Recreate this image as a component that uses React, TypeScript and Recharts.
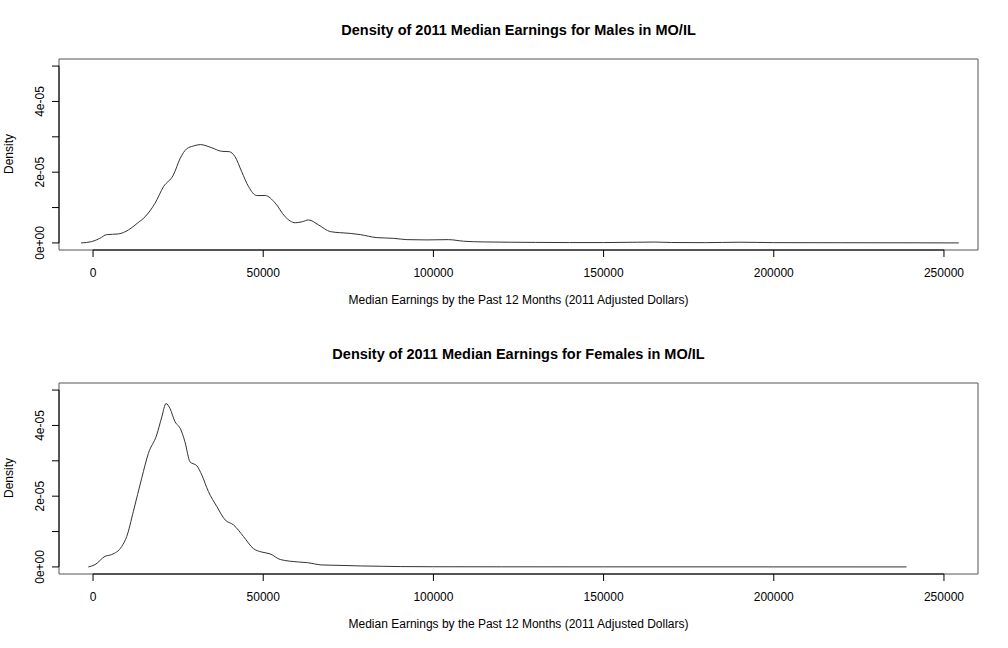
import React from 'react';
import { ComposedChart, Line, XAxis, YAxis, ReferenceArea, ReferenceLine } from 'recharts';

// Male density curve (earnings in dollars, density)
const maleX = [-3530, -400, 2000, 4000, 7450, 10400, 13000, 15300, 18200, 20700, 23600, 25600, 27500, 29500, 31500, 34900, 37800, 40000, 41700, 43700, 45700, 48100, 50600, 53500, 56450, 59400, 61500, 63300, 66250, 69700, 72500, 75550, 78500, 83400, 88300, 92200, 98100, 104400, 108900, 114700, 122600, 130000, 140000, 150000, 160000, 165000, 170000, 180000, 190000, 200000, 220000, 240000, 254350];
const maleY = [0, 0.037e-5, 0.13e-5, 0.234e-5, 0.254e-5, 0.367e-5, 0.556e-5, 0.74e-5, 1.12e-5, 1.59e-5, 1.92e-5, 2.39e-5, 2.66e-5, 2.74e-5, 2.78e-5, 2.69e-5, 2.59e-5, 2.58e-5, 2.44e-5, 2.01e-5, 1.59e-5, 1.34e-5, 1.34e-5, 1.13e-5, 0.74e-5, 0.57e-5, 0.6e-5, 0.65e-5, 0.51e-5, 0.32e-5, 0.29e-5, 0.27e-5, 0.235e-5, 0.15e-5, 0.13e-5, 0.093e-5, 0.085e-5, 0.093e-5, 0.048e-5, 0.028e-5, 0.02e-5, 0.015e-5, 0.01e-5, 0.01e-5, 0.02e-5, 0.025e-5, 0.012e-5, 0.008e-5, 0.02e-5, 0.008e-5, 0.005e-5, 0.003e-5, 0];

// Female density curve
const femaleX = [-1380, 590, 3530, 5500, 8440, 9900, 11850, 14300, 16260, 18700, 20200, 21450, 22600, 24100, 25600, 27000, 28500, 30500, 31950, 33900, 36350, 38800, 41250, 44200, 47100, 49600, 52000, 55000, 60350, 63000, 67200, 72000, 78500, 85000, 90250, 100000, 120000, 150000, 200000, 239000];
const femaleY = [0, 0.065e-5, 0.3e-5, 0.35e-5, 0.58e-5, 0.86e-5, 1.57e-5, 2.51e-5, 3.21e-5, 3.73e-5, 4.24e-5, 4.62e-5, 4.48e-5, 4.1e-5, 3.92e-5, 3.54e-5, 2.97e-5, 2.86e-5, 2.6e-5, 2.13e-5, 1.71e-5, 1.33e-5, 1.19e-5, 0.86e-5, 0.52e-5, 0.42e-5, 0.37e-5, 0.21e-5, 0.14e-5, 0.12e-5, 0.056e-5, 0.045e-5, 0.028e-5, 0.018e-5, 0.01e-5, 0.005e-5, 0.003e-5, 0.002e-5, 0.001e-5, 0];

const xTicks = [0, 50000, 100000, 150000, 200000, 250000];
const xTickLabels = ['0', '50000', '100000', '150000', '200000', '250000'];
const yTicks = [0, 1e-5, 2e-5, 3e-5, 4e-5, 5e-5];
const yTickLabels = ['0e+00', '', '2e-05', '', '4e-05', ''];

const xDomain = [-10000, 260000];
const yDomain = [-0.2e-5, 5.2e-5];

const titles = [
  'Density of 2011 Median Earnings for Males in MO/IL',
  'Density of 2011 Median Earnings for Females in MO/IL',
];
const xLabel = 'Median Earnings by the Past 12 Months (2011 Adjusted Dollars)';
const yLabel = 'Density';

const FONT = '"Liberation Sans", Arial, Helvetica, sans-serif';
const W = 1008;
const H = 324;

const XTick = (props: any) => {
  const { x, y, payload, index } = props;
  const i = xTicks.indexOf(payload.value);
  return (
    <text x={x} y={y + 20} textAnchor="middle" fontSize={12} fontFamily={FONT} fill="#000">
      {xTickLabels[i >= 0 ? i : index]}
    </text>
  );
};

const YTick = (props: any) => {
  const { x, y, payload, index } = props;
  const i = yTicks.indexOf(payload.value);
  const label = yTickLabels[i >= 0 ? i : index];
  if (!label) return null;
  const tx = x - 8;
  return (
    <text x={tx} y={y} transform={`rotate(-90, ${tx}, ${y})`} textAnchor="middle" fontSize={12} fontFamily={FONT} fill="#000">
      {label}
    </text>
  );
};

function Panel({ xs, ys, title, top }: { xs: number[]; ys: number[]; title: string; top: number }) {
  const data = xs.map((x, i) => ({ x, y: ys[i] }));
  return (
    <div style={{ position: 'absolute', left: 0, top, width: W, height: H }}>
      <ComposedChart width={W} height={H} data={data} margin={{ top: 59, right: 30, bottom: 0, left: 0 }}>
        <XAxis
          dataKey="x"
          type="number"
          domain={xDomain}
          ticks={xTicks}
          axisLine={false}
          tickLine={{ stroke: '#000', strokeWidth: 1 }}
          tickSize={7}
          tickMargin={0}
          height={74}
          tick={<XTick />}
          interval={0}
          allowDataOverflow
        />
        <YAxis
          type="number"
          domain={yDomain}
          ticks={yTicks}
          axisLine={false}
          tickLine={{ stroke: '#000', strokeWidth: 1 }}
          tickSize={7}
          tickMargin={0}
          width={59}
          tick={<YTick />}
          interval={0}
          allowDataOverflow
        />
        <ReferenceArea
          x1={xDomain[0]}
          x2={xDomain[1]}
          y1={yDomain[0]}
          y2={yDomain[1]}
          fill="none"
          fillOpacity={0}
          stroke="#555"
          strokeWidth={1}
          ifOverflow="visible"
        />
        <ReferenceLine
          segment={[{ x: xTicks[0], y: yDomain[0] }, { x: xTicks[xTicks.length - 1], y: yDomain[0] }]}
          stroke="#000"
          strokeWidth={1}
          ifOverflow="visible"
        />
        <ReferenceLine
          segment={[{ x: xDomain[0], y: yTicks[0] }, { x: xDomain[0], y: yTicks[yTicks.length - 1] }]}
          stroke="#000"
          strokeWidth={1}
          ifOverflow="visible"
        />
        <Line
          type="monotone"
          dataKey="y"
          stroke="#333"
          strokeWidth={1}
          dot={false}
          activeDot={false}
          isAnimationActive={false}
        />
      </ComposedChart>
      <div
        style={{
          position: 'absolute', left: 59, top: 21, width: 919, textAlign: 'center',
          fontFamily: FONT, fontWeight: 'bold', fontSize: 14.5, lineHeight: '18px', color: '#000',
        }}
      >
        {title}
      </div>
      <div
        style={{
          position: 'absolute', left: 59, top: 293, width: 919, textAlign: 'center',
          fontFamily: FONT, fontSize: 12, lineHeight: '14px', color: '#000',
        }}
      >
        {xLabel}
      </div>
      <div
        style={{
          position: 'absolute', left: 9, top: 154, transform: 'translate(-50%, -50%) rotate(-90deg)',
          fontFamily: FONT, fontSize: 12, lineHeight: '14px', color: '#000', whiteSpace: 'nowrap',
        }}
      >
        {yLabel}
      </div>
    </div>
  );
}

export default function App() {
  return (
    <div style={{ position: 'absolute', left: 0, top: 0, width: W, height: 2 * H, background: '#fff' }}>
      <Panel xs={maleX} ys={maleY} title={titles[0]} top={0} />
      <Panel xs={femaleX} ys={femaleY} title={titles[1]} top={H} />
    </div>
  );
}
